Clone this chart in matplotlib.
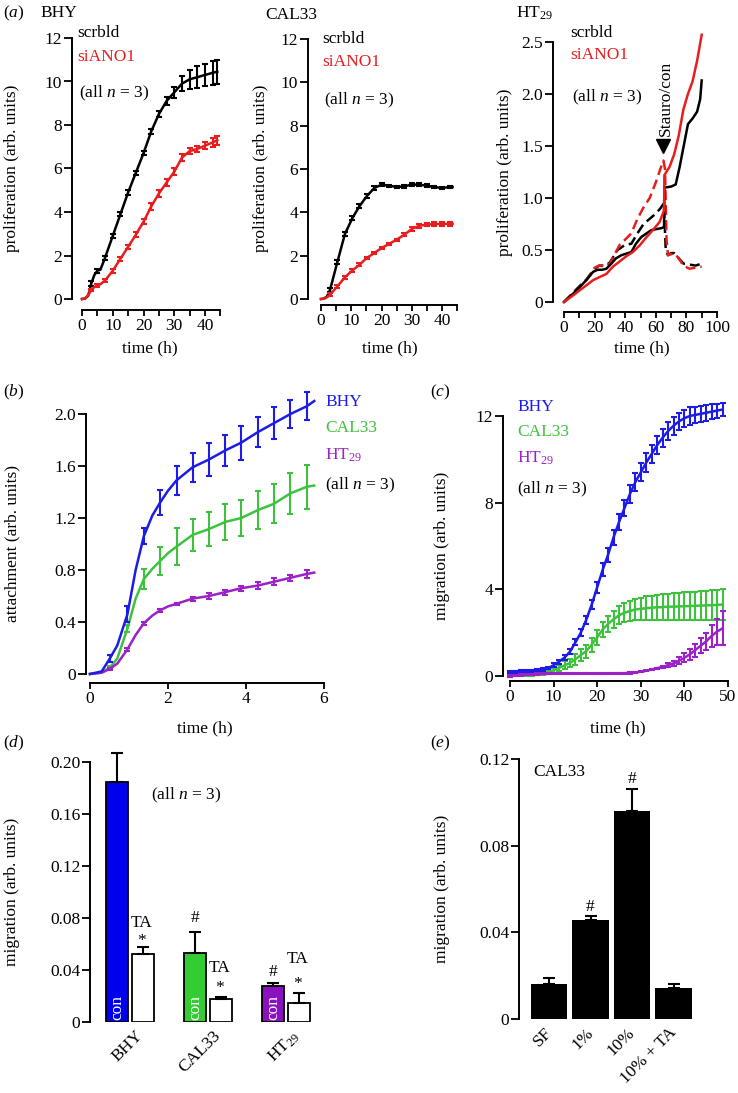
import matplotlib
matplotlib.use('Agg')
import matplotlib.pyplot as plt
import matplotlib.transforms as mtransforms

plt.rcParams['font.family'] = 'Liberation Serif'
plt.rcParams['font.size'] = 12.5
plt.rcParams['mathtext.fontset'] = 'custom'
plt.rcParams['mathtext.rm'] = 'Liberation Serif'
plt.rcParams['mathtext.it'] = 'Liberation Serif:italic'

BLUE = '#1c1ce6'
GREEN = '#3ec23e'
PURPLE = '#9a22c6'
RED = '#e81e1e'

# ---- (a) proliferation, BHY
bhy_t = [0, 1, 2, 3, 4, 5, 6, 7.5, 10, 12.5, 15, 17.5, 20, 22.5, 25, 27.5, 30, 32.5, 35, 37.5, 40, 42.5, 44]
bhy_scr = [0, 0.02, 0.15, 0.7, 1.1, 1.3, 1.35, 1.9, 2.9, 3.9, 4.9, 5.8, 6.7, 7.7, 8.5, 9.1, 9.5, 9.9, 10.1, 10.2, 10.3, 10.4, 10.45]
bhy_scr_err = [0, 0, 0, 0.12, 0, 0.1, 0, 0.1, 0.1, 0.1, 0.1, 0.1, 0.1, 0.12, 0.15, 0.18, 0.25, 0.35, 0.45, 0.5, 0.5, 0.55, 0.55]
bhy_si = [0, 0.02, 0.18, 0.4, 0.55, 0.62, 0.68, 0.85, 1.3, 1.85, 2.4, 2.95, 3.55, 4.25, 4.85, 5.35, 5.85, 6.5, 6.8, 6.9, 7.05, 7.2, 7.3]
bhy_si_err = [0, 0, 0, 0.05, 0, 0.05, 0, 0.08, 0.1, 0.1, 0.1, 0.12, 0.12, 0.15, 0.15, 0.15, 0.15, 0.15, 0.15, 0.15, 0.15, 0.2, 0.2]

# ---- (a) proliferation, CAL33
cal_t = [0, 1, 2, 3, 5.4, 7.9, 10.4, 12.7, 15.1, 17.6, 20, 22.5, 25, 27.6, 30, 32.5, 35, 37.5, 40, 42.5, 43.5]
cal_scr = [0, 0.02, 0.12, 0.43, 1.7, 3.0, 3.74, 4.28, 4.74, 5.12, 5.28, 5.23, 5.17, 5.2, 5.28, 5.28, 5.23, 5.17, 5.12, 5.17, 5.17]
cal_scr_err = [0, 0, 0, 0.1, 0.1, 0.1, 0.1, 0.1, 0.1, 0.08, 0.06, 0.05, 0.05, 0.06, 0.08, 0.08, 0.06, 0.06, 0.06, 0.06, 0]
cal_si = [0, 0.01, 0.08, 0.2, 0.58, 1.0, 1.32, 1.58, 1.89, 2.12, 2.35, 2.54, 2.74, 2.97, 3.23, 3.38, 3.43, 3.46, 3.46, 3.47, 3.47]
cal_si_err = [0, 0, 0, 0.06, 0.06, 0.06, 0.06, 0.06, 0.06, 0.06, 0.05, 0.05, 0.05, 0.06, 0.08, 0.08, 0.08, 0.08, 0.08, 0.08, 0]

# ---- (a) proliferation, HT29 (solid: control, dashed: staurosporine)
ht_scr_t = [0, 6, 10, 14.6, 19, 22, 25, 27.7, 31, 34, 37.5, 40.7, 44, 47, 50.5, 54, 57, 60, 63.6, 65.4, 65.6, 70, 73, 75.6, 78.9, 81, 84.3, 87, 89, 90]
ht_scr = [0, 0.08, 0.14, 0.21, 0.29, 0.31, 0.31, 0.32, 0.37, 0.42, 0.45, 0.465, 0.48, 0.56, 0.625, 0.66, 0.69, 0.7, 0.71, 0.72, 1.1, 1.11, 1.13, 1.3, 1.55, 1.71, 1.77, 1.83, 1.95, 2.13]
ht_si_t = [0, 6, 10, 14.6, 19, 23.3, 27.7, 32, 36.4, 40.7, 45, 49.5, 54, 58, 62.5, 65.4, 65.6, 69, 72, 75, 78, 81, 84, 87, 90]
ht_si = [0, 0.064, 0.11, 0.16, 0.21, 0.24, 0.27, 0.34, 0.39, 0.44, 0.48, 0.545, 0.625, 0.69, 0.77, 0.88, 1.22, 1.3, 1.42, 1.6, 1.85, 2.0, 2.12, 2.32, 2.57]
ht_scr_st_t = [0, 6, 10, 15, 20, 23, 27, 30, 35, 40, 44, 48, 52, 56, 60, 63, 65.3, 66.5, 68, 70, 72, 75, 78, 82, 86, 90]
ht_scr_st = [0, 0.09, 0.15, 0.22, 0.32, 0.35, 0.35, 0.38, 0.5, 0.55, 0.56, 0.66, 0.75, 0.8, 0.85, 0.9, 0.95, 0.5, 0.45, 0.47, 0.47, 0.42, 0.37, 0.36, 0.35, 0.37]
ht_si_st_t = [0, 6, 10, 15, 20, 23, 27, 30, 36.4, 40, 44, 48, 52, 56, 60, 63, 65, 66, 67, 68, 70, 72, 75, 78, 82, 86, 90]
ht_si_st = [0, 0.08, 0.14, 0.22, 0.33, 0.35, 0.34, 0.37, 0.55, 0.6, 0.66, 0.8, 0.91, 1.0, 1.15, 1.28, 1.36, 1.28, 0.6, 0.45, 0.46, 0.47, 0.42, 0.35, 0.32, 0.33, 0.34]

# ---- (b) attachment
att_t = [0, 0.3, 0.51, 0.7, 0.96, 1.17, 1.38, 1.6, 1.8, 2.0, 2.22, 2.63, 3.05, 3.47, 3.88, 4.3, 4.72, 5.14, 5.56, 5.75]
att_bhy = [0, 0.02, 0.12, 0.22, 0.46, 0.8, 1.06, 1.22, 1.32, 1.41, 1.49, 1.59, 1.65, 1.72, 1.78, 1.86, 1.93, 2.0, 2.06, 2.1]
att_bhy_err = [0, 0, 0.03, 0, 0.06, 0, 0.06, 0, 0.095, 0, 0.11, 0.11, 0.125, 0.12, 0.13, 0.115, 0.12, 0.11, 0.11, 0]
att_cal = [0, 0.01, 0.05, 0.12, 0.35, 0.58, 0.73, 0.81, 0.87, 0.93, 0.98, 1.07, 1.115, 1.17, 1.2, 1.26, 1.31, 1.39, 1.44, 1.45]
att_cal_err = [0, 0, 0.01, 0, 0.03, 0, 0.075, 0, 0.11, 0, 0.14, 0.125, 0.13, 0.14, 0.14, 0.145, 0.15, 0.16, 0.17, 0]
att_ht = [0, 0.01, 0.04, 0.08, 0.19, 0.3, 0.39, 0.45, 0.49, 0.52, 0.54, 0.58, 0.6, 0.63, 0.66, 0.68, 0.71, 0.74, 0.77, 0.78]
att_ht_err = [0, 0, 0.01, 0, 0.01, 0, 0.01, 0, 0.01, 0, 0.01, 0.015, 0.02, 0.02, 0.02, 0.025, 0.025, 0.025, 0.03, 0]

# ---- (c) migration time course
mig_t = [0, 1.25, 2.5, 3.75, 5, 6.25, 7.5, 8.75, 10, 11.25, 12.5, 13.75, 15, 16.25, 17.5, 18.75, 20, 21.25, 22.5, 23.75,
         25, 26.25, 27.5, 28.75, 30, 31.25, 32.5, 33.75, 35, 36.25, 37.5, 38.75, 40, 41.25, 42.5, 43.75, 45, 46.25, 47.5, 48.75]
mig_bhy = [0.2, 0.2, 0.21, 0.22, 0.24, 0.26, 0.3, 0.36, 0.5, 0.66, 0.85, 1.12, 1.55, 2.0, 2.6, 3.3, 4.1, 4.9, 5.6, 6.4,
           7.1, 7.75, 8.4, 8.95, 9.4, 9.85, 10.25, 10.65, 11.0, 11.3, 11.55, 11.75, 11.9, 12.0, 12.05, 12.1, 12.15, 12.2, 12.25, 12.3]
mig_bhy_err = [0.05, 0.05, 0.05, 0.05, 0.05, 0.05, 0.05, 0.05, 0.08, 0.1, 0.1, 0.12, 0.14, 0.16, 0.18, 0.22, 0.26, 0.3, 0.32, 0.35,
               0.38, 0.38, 0.4, 0.42, 0.42, 0.42, 0.42, 0.42, 0.42, 0.42, 0.42, 0.4, 0.4, 0.4, 0.38, 0.38, 0.38, 0.35, 0.32, 0.3]
mig_cal = [0, 0.02, 0.03, 0.05, 0.07, 0.1, 0.14, 0.18, 0.27, 0.38, 0.49, 0.6, 0.77, 0.97, 1.15, 1.45, 1.78, 2.15, 2.4, 2.62,
           2.8, 2.92, 3.0, 3.07, 3.1, 3.13, 3.15, 3.17, 3.18, 3.2, 3.2, 3.21, 3.22, 3.23, 3.24, 3.25, 3.26, 3.27, 3.28, 3.3]
mig_cal_err = [0.03, 0.03, 0.03, 0.04, 0.05, 0.06, 0.08, 0.1, 0.12, 0.15, 0.18, 0.2, 0.25, 0.28, 0.3, 0.32, 0.35, 0.35, 0.38, 0.4,
               0.42, 0.45, 0.48, 0.5, 0.52, 0.55, 0.56, 0.58, 0.6, 0.6, 0.62, 0.63, 0.64, 0.65, 0.66, 0.67, 0.68, 0.69, 0.7, 0.7]
mig_ht = [0, 0.03, 0.05, 0.07, 0.08, 0.09, 0.1, 0.1, 0.11, 0.11, 0.12, 0.12, 0.12, 0.12, 0.12, 0.12, 0.12, 0.12, 0.12, 0.12,
          0.13, 0.13, 0.14, 0.16, 0.2, 0.24, 0.3, 0.36, 0.42, 0.5, 0.58, 0.7, 0.84, 1.0, 1.2, 1.4, 1.6, 1.85, 2.05, 2.2]
mig_ht_err = [0.03, 0.03, 0.03, 0.03, 0.03, 0.03, 0.03, 0.03, 0.03, 0.03, 0.03, 0.03, 0.03, 0.03, 0.03, 0.03, 0.03, 0.03, 0.03, 0.03,
              0.03, 0.03, 0.03, 0.03, 0.03, 0.03, 0.03, 0.03, 0.06, 0.08, 0.12, 0.16, 0.2, 0.25, 0.3, 0.35, 0.4, 0.5, 0.6, 0.78]

# ---- (d) migration with/without TA
d_groups = ['BHY', 'CAL33', 'HT$_{29}$']
d_con = [0.185, 0.053, 0.028]
d_con_err = [0.022, 0.016, 0.002]
d_ta = [0.052, 0.018, 0.015]
d_ta_err = [0.006, 0.001, 0.007]
d_colors = ['#0000ee', '#33cc33', '#8a10c0']

# ---- (e) CAL33 migration vs serum
e_labels = ['SF', '1%', '10%', '10% + TA']
e_vals = [0.0162, 0.0457, 0.096, 0.0143]
e_err = [0.0028, 0.0018, 0.010, 0.0018]

W, H = 738, 1093
fig = plt.figure(figsize=(W / 100, H / 100), dpi=100)


def make_ax(xp, xv, yp, yv, xlim, ylim, lpx, bpx=None, xb=None, yb=None):
    # place axes so that data values xv/yv land on pixel positions xp/yp
    sx = (xp[1] - xp[0]) / (xv[1] - xv[0])
    sy = (yp[1] - yp[0]) / (yv[1] - yv[0])
    left = xp[0] + (xlim[0] - xv[0]) * sx
    right = xp[0] + (xlim[1] - xv[0]) * sx
    bottom = yp[0] + (ylim[0] - yv[0]) * sy
    top = yp[0] + (ylim[1] - yv[0]) * sy
    ax = fig.add_axes([left / W, 1 - bottom / H, (right - left) / W, (bottom - top) / H])
    ax.set_xlim(xlim)
    ax.set_ylim(ylim)
    ax.patch.set_alpha(0)
    for s in ['top', 'right']:
        ax.spines[s].set_visible(False)
    ax.spines['left'].set_position(('data', xv[0] + (lpx - xp[0]) / sx))
    ax.spines['left'].set_linewidth(1.4)
    if yb is not None:
        ax.spines['left'].set_bounds(*yb)
    if bpx is None:
        ax.spines['bottom'].set_visible(False)
        ax.tick_params(axis='x', length=0, pad=4)
    else:
        ax.spines['bottom'].set_position(('data', yv[0] + (bpx - yp[0]) / sy))
        ax.spines['bottom'].set_linewidth(1.4)
        if xb is not None:
            ax.spines['bottom'].set_bounds(*xb)
        ax.tick_params(axis='x', length=4, width=1.3, pad=2)
    ax.tick_params(axis='y', length=6, width=1.3, pad=1)
    return ax


def ftext(x, y, s, **kw):
    kw.setdefault('va', 'center')
    fig.text(x / W, 1 - y / H, s, **kw)


def errline(ax, t, y, e, color, cap=2.2, lw=1.8, ls='-'):
    ax.plot(t, y, color=color, lw=lw, ls=ls, clip_on=False)
    tt = [a for a, b in zip(t, e) if b > 0]
    yy = [a for a, b in zip(y, e) if b > 0]
    ee = [b for b in e if b > 0]
    if tt:
        ax.errorbar(tt, yy, yerr=ee, fmt='none', ecolor=color, elinewidth=1.5,
                    capsize=cap, capthick=1.5, clip_on=False)


def shift_xlabels(ax, dx_px):
    off = mtransforms.ScaledTranslation(dx_px / 100, 0, fig.dpi_scale_trans)
    for lab in ax.get_xticklabels():
        lab.set_transform(lab.get_transform() + off)


# ---------------- (a) BHY
ax = make_ax((82, 205), (0, 40), (299, 38), (0, 12), (-1, 46), (-0.3, 12.3), 72, 310, (0, 45), (0, 12))
errline(ax, bhy_t, bhy_scr, bhy_scr_err, 'black')
errline(ax, bhy_t, bhy_si, bhy_si_err, RED)
ax.set_yticks(range(0, 13, 2))
ax.set_xticks(range(0, 46, 5))
ax.set_xticklabels([str(v) if v % 10 == 0 else '' for v in range(0, 46, 5)])

# ---------------- (a) CAL33
ax = make_ax((321, 442), (0, 40), (299, 39), (0, 12), (-1, 46), (-0.3, 12.3), 308, 305, (0, 45), (0, 12))
errline(ax, cal_t, cal_scr, cal_scr_err, 'black')
errline(ax, cal_t, cal_si, cal_si_err, RED)
ax.set_yticks(range(0, 13, 2))
ax.set_xticks(range(0, 46, 5))
ax.set_xticklabels([str(v) if v % 10 == 0 else '' for v in range(0, 46, 5)])

# ---------------- (a) HT29
ax = make_ax((564, 717), (0, 100), (302, 42), (0, 2.5), (-2, 102), (-0.05, 2.6), 553, 312, (0, 100), (0, 2.5))
ax.plot(ht_scr_st_t, ht_scr_st, color='black', lw=1.8, ls=(0, (4, 2)))
ax.plot(ht_si_st_t, ht_si_st, color=RED, lw=1.8, ls=(0, (4, 2)))
ax.plot(ht_scr_t, ht_scr, color='black', lw=1.8)
ax.plot(ht_si_t, ht_si, color=RED, lw=1.8)
ax.plot([65], [1.5], marker='v', color='black', ms=10)
ax.text(66.5, 1.6, 'Stauro/con', rotation=90, ha='center', va='bottom')
yt = [0, 0.5, 1.0, 1.5, 2.0, 2.5]
ax.set_yticks(yt)
ax.set_yticklabels(['0'] + ['%.1f' % v for v in yt[1:]])
ax.set_xticks(range(0, 101, 10))
ax.set_xticklabels([str(v) if v % 20 == 0 else '' for v in range(0, 101, 10)])

# row (a) labels
ftext(3, 13, '($a$)')
ftext(40, 13, 'BHY')
ftext(265, 15, 'CAL33')
ftext(516, 13, 'HT$_{29}$')
for x0, ys in [(77, (33, 57, 93)), (322, (39, 62, 100)), (570, (33, 55, 97))]:
    ftext(x0, ys[0], 'scrbld')
    ftext(x0, ys[1], 'siANO1', color=RED)
    ftext(x0 + 2, ys[2], '(all $n$ = 3)')
for x0, yc in [(12, 168), (261, 168), (505, 172)]:
    ftext(x0, yc, 'proliferation (arb. units)', rotation=90, ha='center')
for xc in [150, 390, 642]:
    ftext(xc, 348, 'time (h)', ha='center')

# ---------------- (b) attachment
ax = make_ax((90, 324), (0, 6), (674, 414), (0, 2.0), (-0.1, 6.2), (-0.03, 2.25), 86, 683, (0, 6), (0, 2.0))
errline(ax, att_t, att_cal, att_cal_err, GREEN, cap=2.5)
errline(ax, att_t, att_ht, att_ht_err, PURPLE, cap=2.5)
errline(ax, att_t, att_bhy, att_bhy_err, BLUE, cap=2.5)
yt = [0, 0.4, 0.8, 1.2, 1.6, 2.0]
ax.set_yticks(yt)
ax.set_yticklabels(['0'] + ['%.1f' % v for v in yt[1:]])
ax.set_xticks([0, 2, 4, 6])
ftext(3, 392, '($b$)')
ftext(325, 402, 'BHY', color=BLUE)
ftext(325, 428, 'CAL33', color=GREEN)
ftext(325, 455, 'HT$_{29}$', color=PURPLE)
ftext(325, 485, '(all $n$ = 3)')
ftext(12, 544, 'attachment (arb. units)', rotation=90, ha='center')
ftext(205, 728, 'time (h)', ha='center')

# ---------------- (c) migration time course
ax = make_ax((510, 728), (0, 50), (676, 416), (0, 12), (-1, 51), (-0.3, 13.2), 503, 681, (0, 50), (0, 12))
errline(ax, mig_t, mig_cal, mig_cal_err, GREEN, cap=2)
errline(ax, mig_t, mig_bhy, mig_bhy_err, BLUE, cap=2)
errline(ax, mig_t, mig_ht, mig_ht_err, PURPLE, cap=2)
ax.set_yticks([0, 4, 8, 12])
ax.set_xticks(range(0, 51, 10))
ftext(430, 392, '($c$)')
ftext(517, 407, 'BHY', color=BLUE)
ftext(517, 432, 'CAL33', color=GREEN)
ftext(517, 458, 'HT$_{29}$', color=PURPLE)
ftext(517, 489, '(all $n$ = 3)')
ftext(442, 546, 'migration (arb. units)', rotation=90, ha='center')
ftext(618, 728, 'time (h)', ha='center')

# ---------------- (d) migration bars
ax = make_ax((130, 208), (0, 1), (1022, 762), (0, 0.2), (-0.6, 2.4), (0, 0.215), 90, None, None, (0, 0.2))
g = list(range(len(d_groups)))
ax.bar([i - 0.165 for i in g], d_con, width=0.28, color=d_colors, edgecolor='black', lw=1.3,
       yerr=[[0] * 3, d_con_err], error_kw=dict(elinewidth=1.5, capsize=4, capthick=1.5))
ax.bar([i + 0.165 for i in g], d_ta, width=0.28, color='white', edgecolor='black', lw=1.3,
       yerr=[[0] * 3, d_ta_err], error_kw=dict(elinewidth=1.5, capsize=4, capthick=1.5))
for i in g:
    ax.text(i - 0.165, 0.0015, 'con', color='white', rotation=90, ha='center', va='bottom')
ax.set_xticks(g)
ax.set_xticklabels(d_groups, rotation=45, ha='right', rotation_mode='anchor')
shift_xlabels(ax, 5)
yt = [0, 0.04, 0.08, 0.12, 0.16, 0.20]
ax.set_yticks(yt)
ax.set_yticklabels(['0'] + ['%.2f' % v for v in yt[1:]])
ftext(3, 743, '($d$)')
ftext(151, 795, '(all $n$ = 3)')
ftext(142, 923, 'TA', ha='center')
ftext(142, 941, '*', ha='center')
ftext(195, 918, '#', ha='center')
ftext(220, 968, 'TA', ha='center')
ftext(220, 988, '*', ha='center')
ftext(273, 972, '#', ha='center')
ftext(298, 959, 'TA', ha='center')
ftext(298, 984, '*', ha='center')
ftext(12, 892, 'migration (arb. units)', rotation=90, ha='center')

# ---------------- (e) CAL33 serum
ax = make_ax((549, 590.5), (0, 1), (1019, 759), (0, 0.12), (-0.8, 3.55), (0, 0.128), 519, None, None, (0, 0.12))
ex = list(range(len(e_labels)))
ax.bar(ex, e_vals, width=0.89, color='black', yerr=[[0] * 4, e_err],
       error_kw=dict(elinewidth=1.5, capsize=4, capthick=1.5))
ax.set_xticks(ex)
ax.set_xticklabels(e_labels, rotation=45, ha='right', rotation_mode='anchor')
shift_xlabels(ax, -5)
yt = [0, 0.04, 0.08, 0.12]
ax.set_yticks(yt)
ax.set_yticklabels(['0'] + ['%.2f' % v for v in yt[1:]])
ftext(430, 743, '($e$)')
ftext(533, 772, 'CAL33')
ftext(590, 907, '#', ha='center')
ftext(632, 779, '#', ha='center')
ftext(442, 889, 'migration (arb. units)', rotation=90, ha='center')

fig.savefig('out.png', dpi=100)
